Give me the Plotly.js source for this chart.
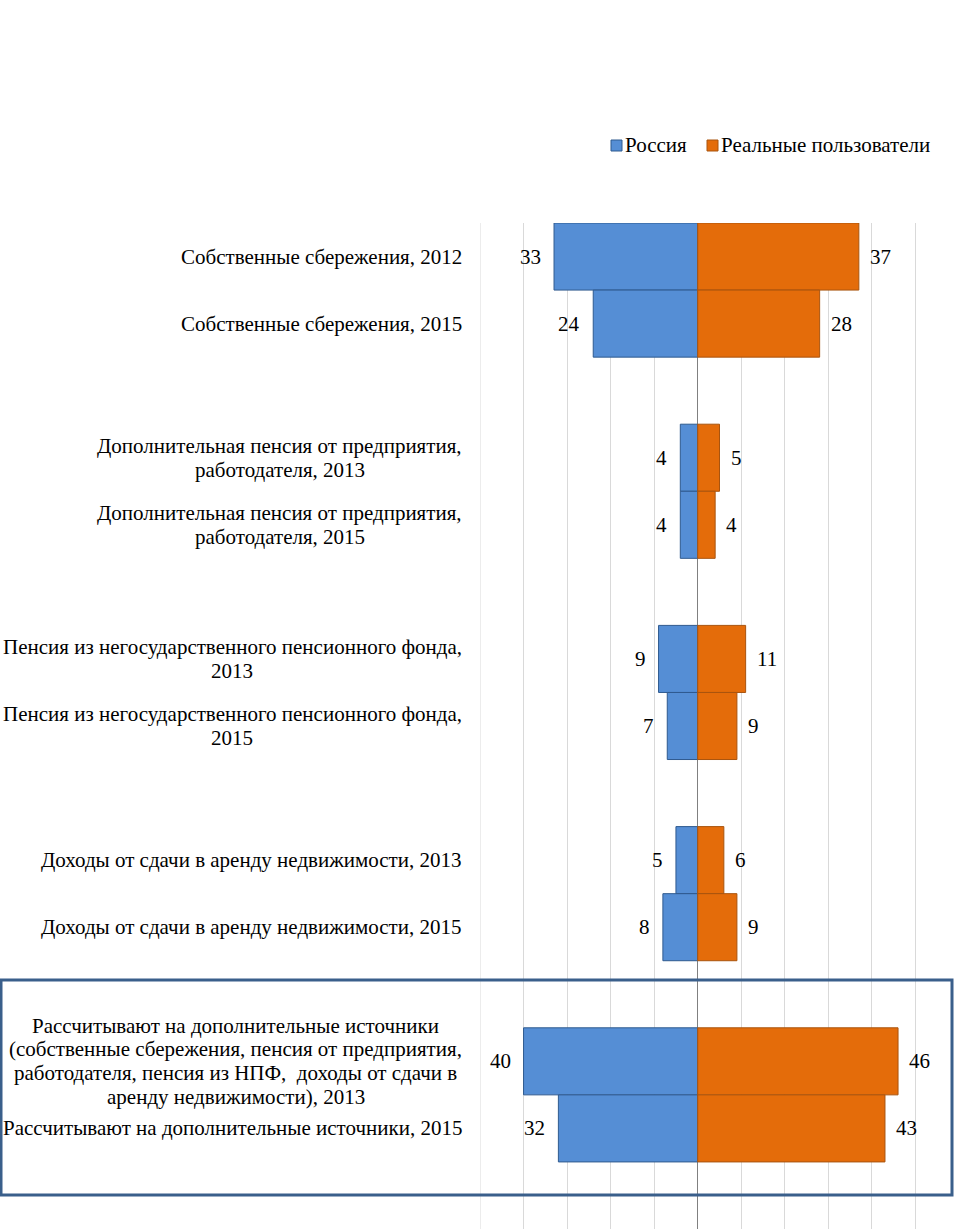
<!DOCTYPE html>
<html><head><meta charset="utf-8">
<script src="https://cdn.plot.ly/plotly-3.0.1.min.js"></script>
<style>html,body{margin:0;padding:0;background:#fff}#chart{width:959px;height:1231px}</style>
</head><body><div id="chart"></div>
<script>
const categories = [
  "Собственные сбережения, 2012",
  "Собственные сбережения, 2015",
  "Дополнительная пенсия от предприятия,<br>работодателя, 2013",
  "Дополнительная пенсия от предприятия,<br>работодателя, 2015",
  "Пенсия из негосударственного пенсионного фонда,<br>2013",
  "Пенсия из негосударственного пенсионного фонда,<br>2015",
  "Доходы от сдачи в аренду недвижимости, 2013",
  "Доходы от сдачи в аренду недвижимости, 2015",
  "Рассчитывают на дополнительные источники<br>(собственные сбережения, пенсия от предприятия,<br>работодателя, пенсия из НПФ,  доходы от сдачи в<br>аренду недвижимости), 2013",
  "Рассчитывают на дополнительные источники, 2015"
];
const russia = [33, 24, 4, 4, 9, 7, 5, 8, 40, 32];
const realUsers = [37, 28, 5, 4, 11, 9, 6, 9, 46, 43];
const seriesNames = ["Россия", "Реальные пользователи"];

// slot positions: pairs separated by one empty slot
const pos = categories.map((c, i) => Math.floor(i / 2) * 3 + (i % 2));

const FONT = "Times New Roman";
const FS = 21;
const blue = "#558ED5", blueLine = "#2F5A8F";
const orange = "#E46C0A", orangeLine = "#A9540E";

const traces = [
  {type: "bar", orientation: "h", name: seriesNames[0], y: pos, x: russia.map(v => -v),
   marker: {color: blue, line: {color: blueLine, width: 1}}, hoverinfo: "skip"},
  {type: "bar", orientation: "h", name: seriesNames[1], y: pos, x: realUsers,
   marker: {color: orange, line: {color: orangeLine, width: 1}}, hoverinfo: "skip"}
];

const W = 479, H = 1006, L = 480, T = 223;
const px = x => (x - L) / W;
const py = y => (T + H - y) / H;

const ctx = document.createElement("canvas").getContext("2d");
ctx.font = FS + "px 'Times New Roman'";
const measure = s => ctx.measureText(s.replace(/&nbsp;/g, " ")).width;

const txtFont = {family: FONT, size: FS, color: "#000"};
const annotations = [];
const LABEL_RIGHT = 462, LINE_H = 23.7;
categories.forEach((c, i) => {
  const lines = c.split("<br>");
  const maxW = Math.max(...lines.map(measure));
  const cx = LABEL_RIGHT - maxW / 2;
  const n = lines.length;
  lines.forEach((ln, j) => {
    annotations.push({xref: "paper", yref: "y", x: px(cx), y: pos[i], text: ln, showarrow: false,
      xanchor: "center", yanchor: "middle", yshift: ((n - 1) / 2 - j) * LINE_H, borderpad: 0, font: txtFont});
  });
  annotations.push({xref: "x", yref: "y", x: -russia[i], y: pos[i], text: String(russia[i]), showarrow: false,
    xanchor: "right", yanchor: "middle", xshift: -11, font: txtFont});
  annotations.push({xref: "x", yref: "y", x: realUsers[i], y: pos[i], text: String(realUsers[i]), showarrow: false,
    xanchor: "left", yanchor: "middle", xshift: 9, font: txtFont});
});

// manual legend
const legendItems = [
  {name: seriesNames[0], color: blue, line: blueLine, sq: 611},
  {name: seriesNames[1], color: orange, line: orangeLine, sq: 707}
];
const shapes = [];
legendItems.forEach(it => {
  shapes.push({type: "rect", xref: "paper", yref: "paper", x0: px(it.sq), x1: px(it.sq + 11), y0: py(151), y1: py(140),
    fillcolor: it.color, line: {color: it.line, width: 1}});
  annotations.push({xref: "paper", yref: "paper", x: px(it.sq + 13), y: py(145), text: it.name, showarrow: false,
    xanchor: "left", yanchor: "middle", borderpad: 0, font: txtFont});
});
// leftmost gridline at -50 (Plotly omits grid at the plot edge)
shapes.push({type: "line", xref: "x", yref: "paper", x0: -50, x1: -50, y0: 0, y1: 1,
  line: {color: "#d9d9d9", width: 1}, layer: "below"});
// highlight frame
shapes.push({type: "rect", xref: "paper", yref: "paper", x0: px(1), x1: px(952), y0: py(1195), y1: py(980),
  line: {color: "#3A5F8B", width: 3}, fillcolor: "rgba(0,0,0,0)", layer: "above"});

const layout = {
  width: 959, height: 1231,
  margin: {l: L, r: 0, t: T, b: 1231 - T - H},
  paper_bgcolor: "#fff", plot_bgcolor: "#fff",
  barmode: "overlay", bargap: 0,
  font: txtFont,
  xaxis: {range: [-50, 60], tick0: 0, dtick: 10, showticklabels: false, showgrid: true, gridcolor: "#d9d9d9", gridwidth: 1,
    zeroline: true, zerolinecolor: "#808080", zerolinewidth: 1, showline: false, fixedrange: true},
  yaxis: {range: [14.5, -0.5], showticklabels: false, showgrid: false, zeroline: false, showline: false, fixedrange: true},
  showlegend: false,
  annotations: annotations,
  shapes: shapes
};

Plotly.newPlot("chart", traces, layout, {displayModeBar: false, staticPlot: true});
</script>
</body></html>
